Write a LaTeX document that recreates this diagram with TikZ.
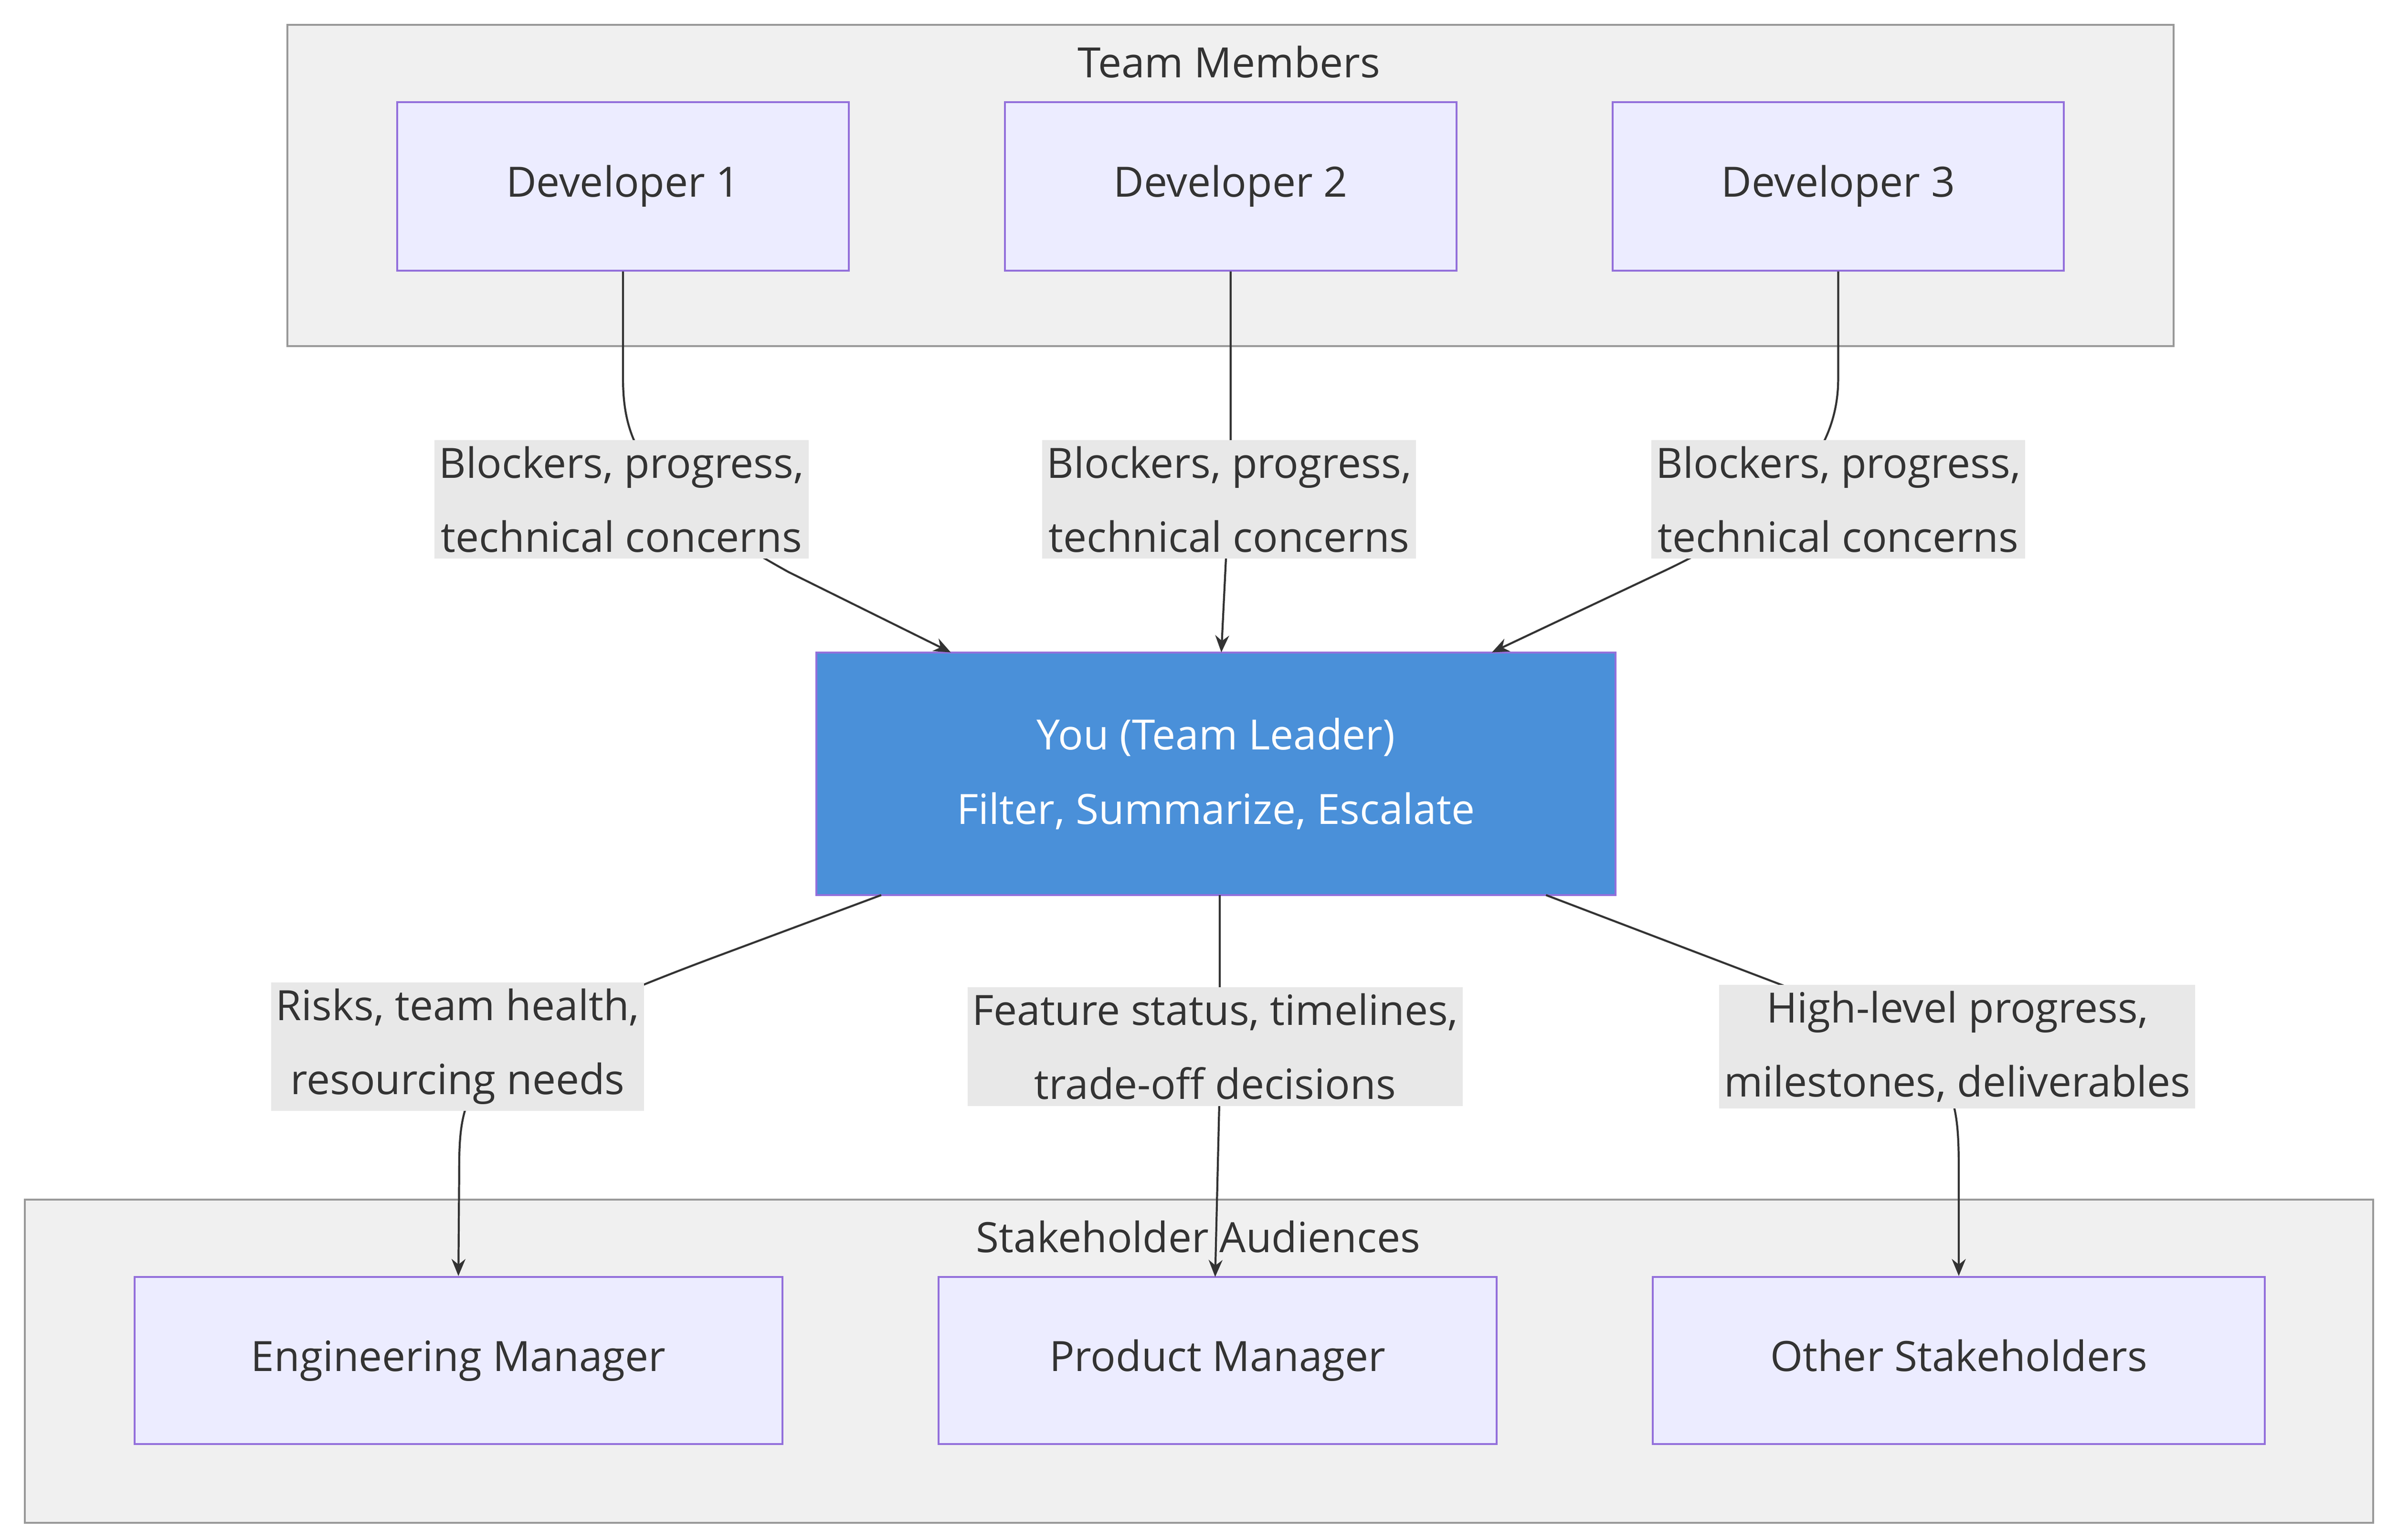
\documentclass[tikz,border=0pt]{standalone}
\usepackage{fontspec}
\setmainfont{Open Sans}
\usetikzlibrary{arrows.meta}
\definecolor{clbg}{HTML}{F0F0F0}
\definecolor{clbd}{HTML}{999999}
\definecolor{nbg}{HTML}{ECECFF}
\definecolor{nbd}{HTML}{9370DB}
\definecolor{lead}{HTML}{4A90D9}
\definecolor{lbl}{HTML}{E8E8E8}
\definecolor{ink}{HTML}{333333}
\begin{document}
\begin{tikzpicture}[x=1pt,y=-1pt,
  font=\fontsize{27}{48}\selectfont,
  cl/.style={draw=clbd,fill=clbg,line width=1.2pt},
  box/.style={draw=nbd,fill=nbg,line width=1.2pt,text=ink,inner sep=0pt,text height=20pt,text depth=6pt},
  lab/.style={fill=lbl,text=ink,align=center,inner xsep=3pt,inner ysep=4pt},
  e/.style={draw=ink,line width=1.3pt,-{Stealth[length=11pt,width=9pt]}}]
\useasboundingbox (0,0) rectangle (1544,996);
\fill[white] (0,0) rectangle (1544,996);
\draw[cl] (186,16) rectangle (1406,224);
\node[text=ink] (t1) at (795,40) {Team Members};
\draw[cl] (16,776) rectangle (1535,985);
\node[text=ink] (t2) at (775,800) {Stakeholder Audiences};
\node[box,minimum width=292,minimum height=109] (d1) at (403,120.5) {Developer 1};
\node[box,minimum width=292,minimum height=109] (d2) at (796,120.5) {Developer 2};
\node[box,minimum width=292,minimum height=109] (d3) at (1189,120.5) {Developer 3};
\node[draw=nbd,fill=lead,line width=1.2pt,text=white,align=center,minimum width=517,minimum height=157] (ld) at (786.5,500.5) {You (Team Leader)\\Filter, Summarize, Escalate};
\node[box,minimum width=419,minimum height=108] (em) at (296.5,880) {Engineering Manager};
\node[box,minimum width=361,minimum height=108] (pm) at (787.5,880) {Product Manager};
\node[box,minimum width=396,minimum height=108] (os) at (1267,880) {Other Stakeholders};
\coordinate (a1) at (615,422); \coordinate (a2) at (790,422); \coordinate (a3) at (965,422);
\coordinate (b1) at (570,579); \coordinate (b2) at (789,579); \coordinate (b3) at (1000,579);
\draw[e] (d1.south) -- (403,245) .. controls (403,290) and (420,320) .. (510,370) -- (a1);
\draw[e] (d2.south) -- (796,300) -- (a2);
\draw[e] (d3.south) -- (1189,245) .. controls (1189,290) and (1160,330) .. (1075,370) -- (a3);
\draw[e] (b1) -- (460,620) .. controls (300,680) and (297,700) .. (297,760) -- (em.north);
\draw[e] (b2) -- (789,700) -- (786,826);
\draw[e] (b3) -- (1160,640) .. controls (1265,680) and (1267,700) .. (1267,760) -- (os.north);
\node[lab] (l1) at (402,323) {Blockers, progress,\\technical concerns};
\node[lab] (l2) at (795,323) {Blockers, progress,\\technical concerns};
\node[lab] (l3) at (1189,323) {Blockers, progress,\\technical concerns};
\node[lab] (l4) at (296,677) {Risks, team health,\\resourcing needs};
\node[lab] (l5) at (786,677) {Feature status, timelines,\\trade-off decisions};
\node[lab] (l6) at (1266,677) {High-level progress,\\milestones, deliverables};
\end{tikzpicture}
\end{document}
